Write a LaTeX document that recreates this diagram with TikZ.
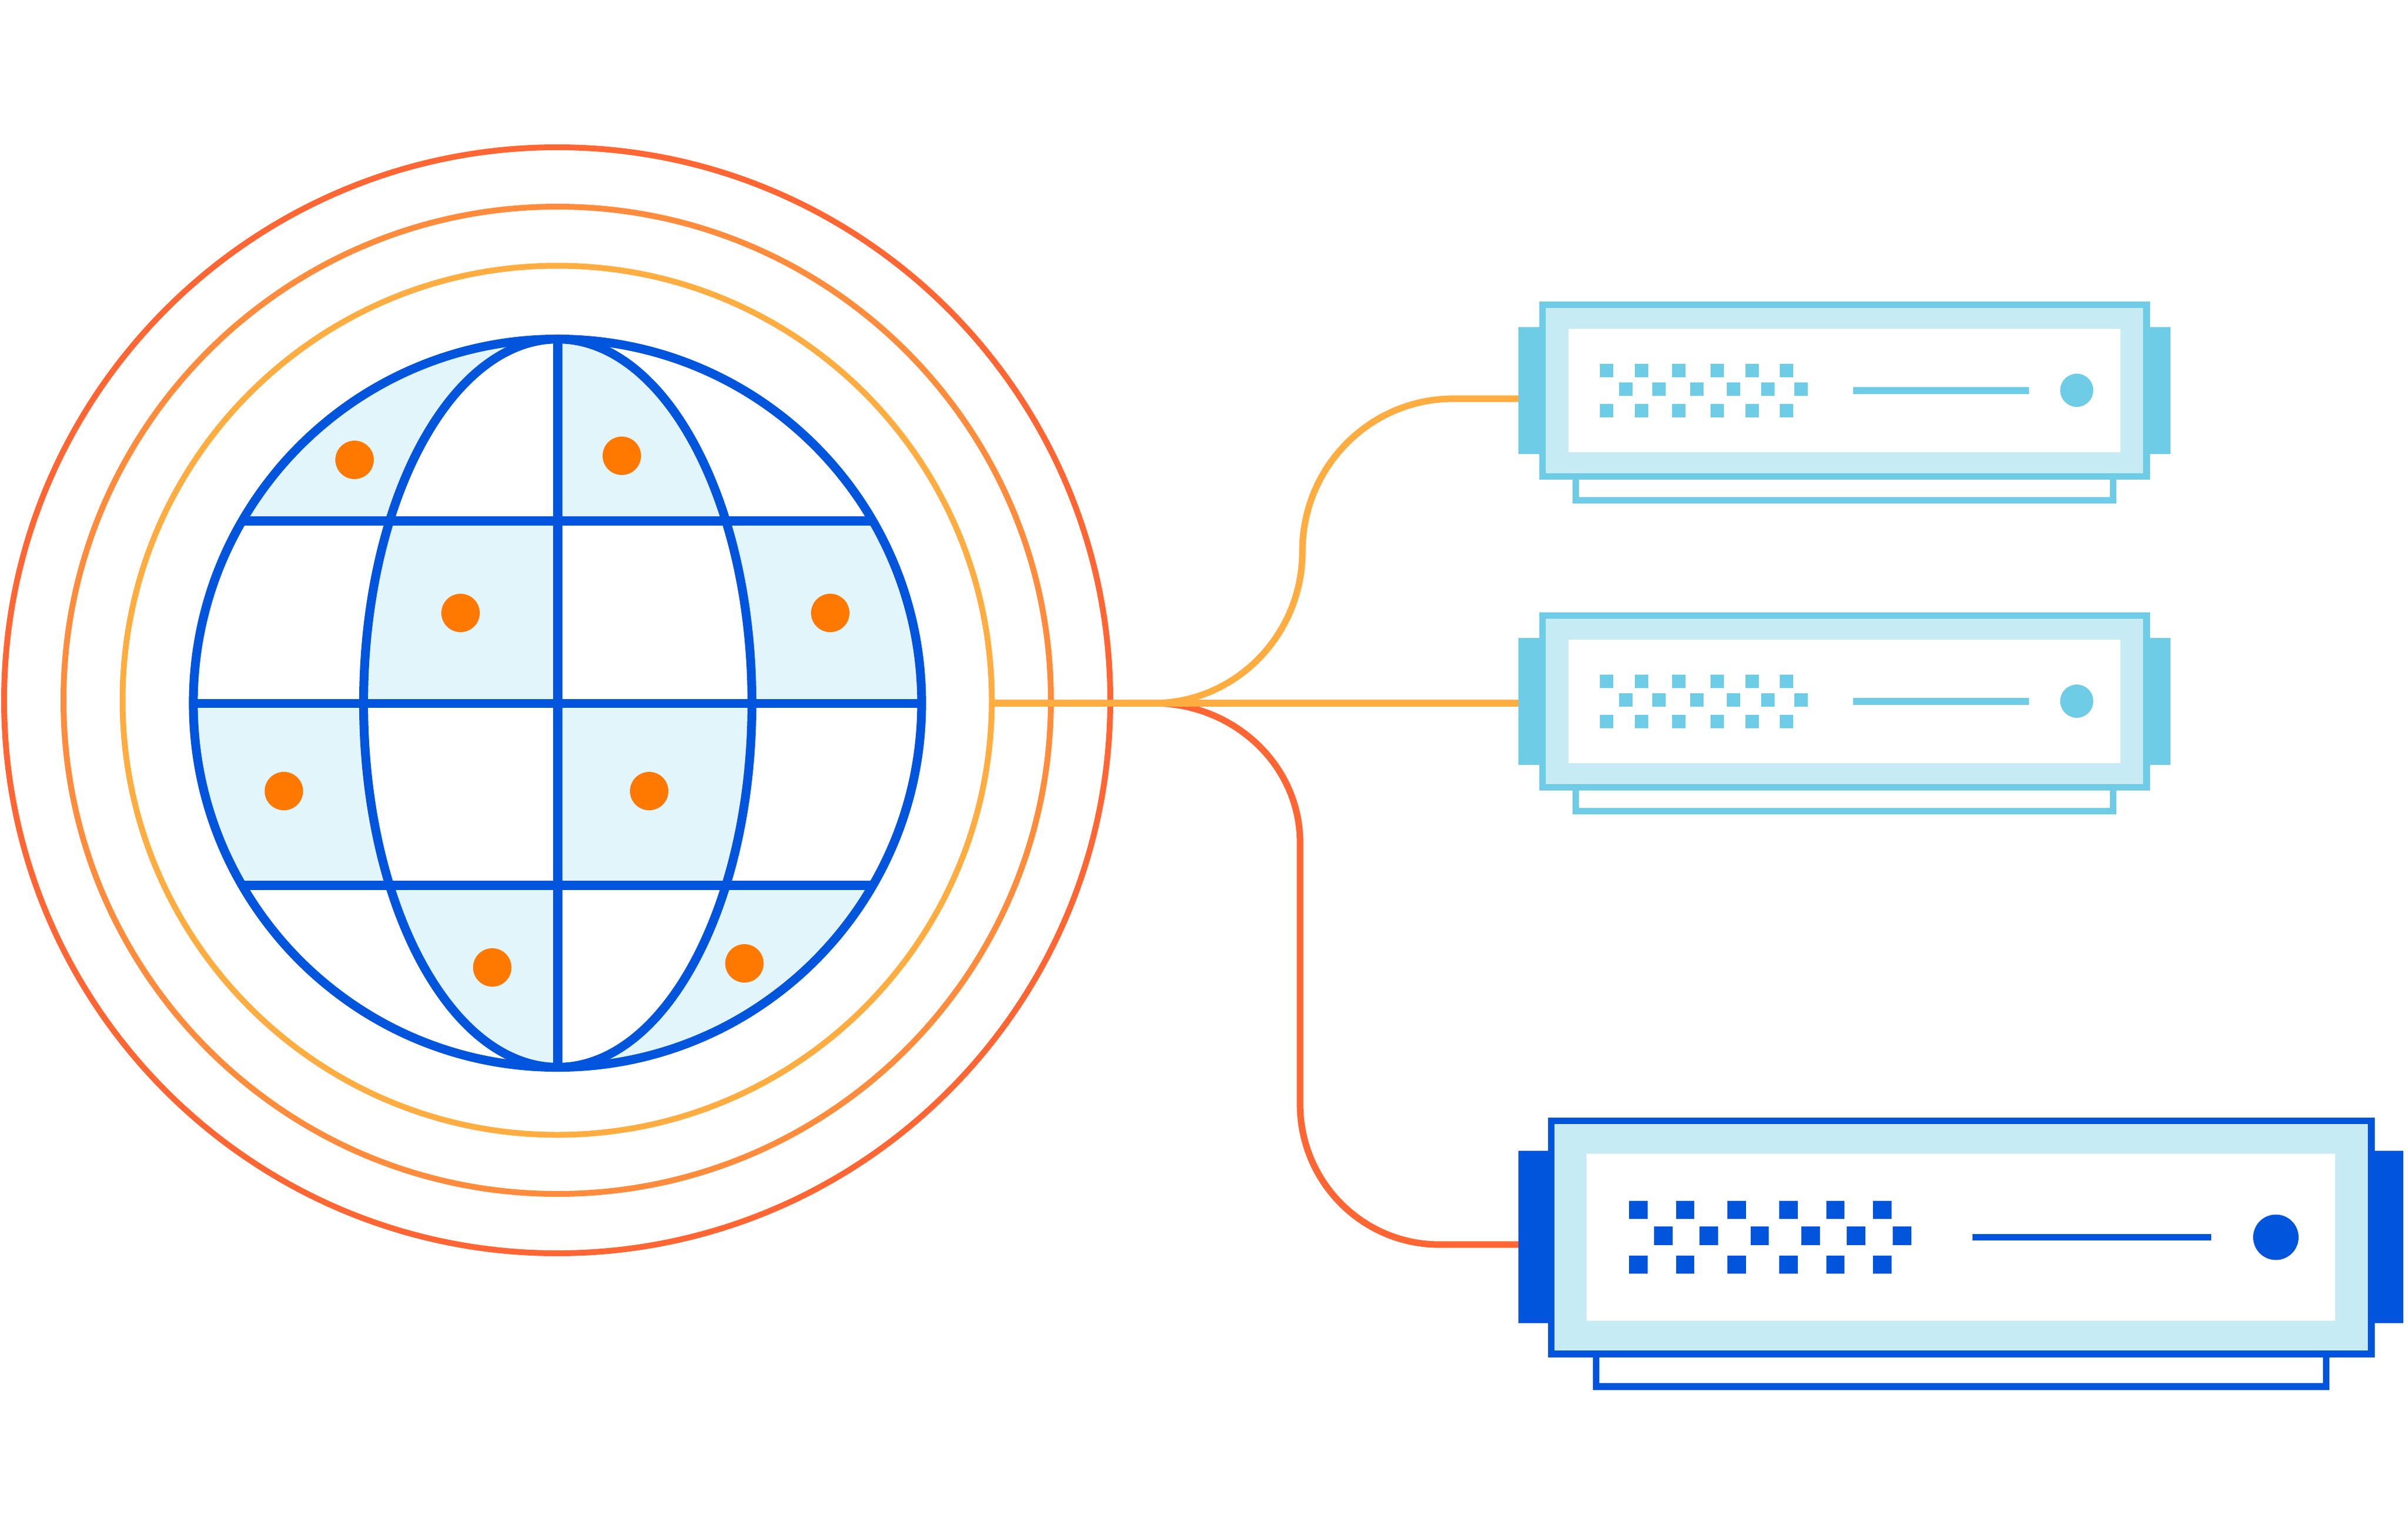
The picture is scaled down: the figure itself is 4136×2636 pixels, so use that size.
\documentclass[tikz,border=0pt]{standalone}
\definecolor{ringA}{HTML}{FFAD41}
\definecolor{ringB}{HTML}{FF8C3C}
\definecolor{ringC}{HTML}{FF6633}
\definecolor{globeblue}{HTML}{0055DC}
\definecolor{cellfill}{HTML}{E1F5FB}
\definecolor{dotorange}{HTML}{FF7900}
\definecolor{cyanline}{HTML}{6ECCE6}
\definecolor{palefill}{HTML}{C6EBF4}
\tikzset{
  ring/.style={line width=2.5pt},
  globeline/.style={draw=globeblue,line width=3.8pt},
  link/.style={line width=2.8pt},
}
% name, colour
\newcommand{\smallserver}[2]{%
  \fill[#2] (2608,562) rectangle (3728,780);
  \node[inner sep=0pt,outer sep=0pt,minimum width=9pt,minimum height=54.5pt,anchor=west] (#1) at (2608,671) {};
  \fill[#2] (2701,800) rectangle (3635,865);
  \fill[white] (2712,820) rectangle (3624,854);
  \fill[#2] (2644,518) rectangle (3693,824);
  \fill[palefill] (2655,529) rectangle (3681,813);
  \fill[white] (2694,565) rectangle (3642,777);
  \foreach \x in {2748,2808,2872,2938,2998,3057}{
    \fill[#2] (\x,625) rectangle ++(23,23);
    \fill[#2] (\x,694) rectangle ++(23,23);}
  \foreach \x in {2780.5,2838,2902.5,2966,3024.5,3082}{
    \fill[#2] (\x,657) rectangle ++(23,23);}
  \fill[#2] (3183,665) rectangle (3485,677);
  \fill[#2] (3567,670.5) circle[radius=28.5];
}
\begin{document}
\begin{tikzpicture}[x=0.25pt,y=-0.25pt]
\useasboundingbox (0,0) rectangle (4136,2636);
\fill[white] (0,0) rectangle (4136,2636);
\coordinate (rc) at (957,1203);
\coordinate (ctr) at (957.5,1208);
\coordinate (ectr) at (958,1208);
% rings
\draw[ring,ringC] (rc) circle[radius=950];
\draw[ring,ringB] (rc) circle[radius=848];
\draw[ring,ringA] (rc) circle[radius=746.5];
% globe cells
\begin{scope}
  \clip (0,0) rectangle (4136,895);
  \begin{scope}\clip (0,0) rectangle (958,2636);
    \fill[cellfill,even odd rule] (ctr) circle[radius=625.5] (ectr) ellipse[x radius=333.5,y radius=625.5];
  \end{scope}
  \begin{scope}\clip (958,0) rectangle (4136,2636);
    \fill[cellfill] (ectr) ellipse[x radius=333.5,y radius=625.5];
  \end{scope}
\end{scope}
\begin{scope}
  \clip (0,895) rectangle (4136,1208);
  \begin{scope}\clip (0,0) rectangle (958,2636);
    \fill[cellfill] (ectr) ellipse[x radius=333.5,y radius=625.5];
  \end{scope}
  \begin{scope}\clip (958,0) rectangle (4136,2636);
    \fill[cellfill,even odd rule] (ctr) circle[radius=625.5] (ectr) ellipse[x radius=333.5,y radius=625.5];
  \end{scope}
\end{scope}
\begin{scope}
  \clip (0,1208) rectangle (4136,1521);
  \begin{scope}\clip (0,0) rectangle (958,2636);
    \fill[cellfill,even odd rule] (ctr) circle[radius=625.5] (ectr) ellipse[x radius=333.5,y radius=625.5];
  \end{scope}
  \begin{scope}\clip (958,0) rectangle (4136,2636);
    \fill[cellfill] (ectr) ellipse[x radius=333.5,y radius=625.5];
  \end{scope}
\end{scope}
\begin{scope}
  \clip (0,1521) rectangle (4136,2636);
  \begin{scope}\clip (0,0) rectangle (958,2636);
    \fill[cellfill] (ectr) ellipse[x radius=333.5,y radius=625.5];
  \end{scope}
  \begin{scope}\clip (958,0) rectangle (4136,2636);
    \fill[cellfill,even odd rule] (ctr) circle[radius=625.5] (ectr) ellipse[x radius=333.5,y radius=625.5];
  \end{scope}
\end{scope}
% globe lines
\begin{scope}
  \clip (ctr) circle[radius=625.5];
  \draw[globeline] (300,895) -- (1620,895);
  \draw[globeline] (300,1208.5) -- (1620,1208.5);
  \draw[globeline] (300,1521) -- (1620,1521);
  \draw[globeline] (958,500) -- (958,1900);
\end{scope}
\draw[globeline] (ectr) ellipse[x radius=333.5,y radius=625.5];
\draw[globeline] (ctr) circle[radius=625.5];
% dots
\foreach \x/\y in {609/790,1068/783,791/1053,1426/1053,487.5/1359,1115/1359,845.5/1662,1278.6/1655}{
  \fill[dotorange] (\x,\y) circle[radius=33];
}
% servers
\smallserver{tabA}{cyanline}
\begin{scope}[shift={(0,534)}]
\smallserver{tabB}{cyanline}
\end{scope}
% large server
\fill[globeblue] (2608,1977) rectangle (4128,2273);
\node[inner sep=0pt,outer sep=0pt,minimum width=12.75pt,minimum height=74pt,anchor=west] (tabC) at (2608,2125) {};
\fill[globeblue] (2736,2300) rectangle (4001,2388);
\fill[white] (2747,2330) rectangle (3990,2376);
\fill[globeblue] (2659,1919.5) rectangle (4078.5,2332);
\fill[palefill] (2670,1931) rectangle (4066.5,2320);
\fill[white] (2725,1982) rectangle (4011,2269);
\foreach \x in {2798,2878.7,2967,3056,3136.7,3217}{
  \fill[globeblue] (\x,2063) rectangle ++(31.5,31);
  \fill[globeblue] (\x,2156.7) rectangle ++(31.5,31);}
\foreach \x in {2841,2919,3006.7,3094,3172.4,3251}{
  \fill[globeblue] (\x,2107) rectangle ++(31.5,31.5);}
\fill[globeblue] (3388,2120) rectangle (3797.6,2131);
\fill[globeblue] (3909,2125.5) circle[radius=39];
% connectors
\coordinate (hub) at (1703,1208);
\coordinate (split) at (1981,1208);
\draw[link,ringC] (split) .. controls (2120,1208) and (2233,1315) .. (2233,1448)
  -- (2233,1897) .. controls (2233,2030) and (2340,2138) .. (2472,2138) -- (tabC.west |- 0,2138);
\draw[link,ringA] (split) .. controls (2122,1208) and (2237,1091) .. (2237,947)
  .. controls (2237,802) and (2353,685) .. (2496,685) -- (tabA.west |- 0,685);
\draw[link,ringA] (hub) -- (tabB.west |- hub);
\end{tikzpicture}
\end{document}
